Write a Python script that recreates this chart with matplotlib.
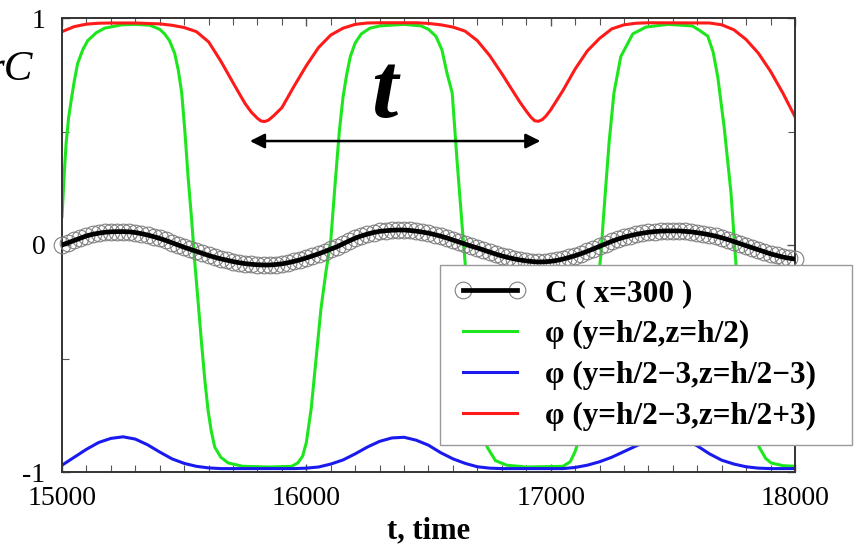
import numpy as np
import matplotlib
matplotlib.use("Agg")
import matplotlib.pyplot as plt
from matplotlib.legend_handler import HandlerTuple

plt.rcParams['font.family'] = ['Liberation Serif', 'DejaVu Serif']
plt.rcParams['mathtext.fontset'] = 'stix'

# ---------------- data ----------------
t_c = np.arange(15000, 18001, 25)
c_vals = [0.000, 0.010, 0.020, 0.030, 0.040, 0.047, 0.052, 0.056, 0.058, 0.059,
          0.059, 0.058, 0.055, 0.050, 0.044, 0.037, 0.029, 0.020, 0.010, 0.000,
          -0.010, -0.019, -0.028, -0.037, -0.046, -0.054, -0.061, -0.067, -0.073, -0.078,
          -0.082, -0.085, -0.087, -0.088, -0.088, -0.086, -0.083, -0.078, -0.072, -0.065,
          -0.057, -0.048, -0.039, -0.029, -0.018, -0.008, 0.005, 0.018, 0.030, 0.040,
          0.048, 0.055, 0.060, 0.063, 0.065, 0.066, 0.066, 0.064, 0.061, 0.057,
          0.052, 0.046, 0.039, 0.031, 0.022, 0.013, 0.004, -0.005, -0.013, -0.022,
          -0.031, -0.040, -0.048, -0.055, -0.061, -0.066, -0.070, -0.073, -0.075, -0.074,
          -0.072, -0.068, -0.062, -0.055, -0.047, -0.038, -0.028, -0.017, -0.006, 0.005,
          0.016, 0.026, 0.034, 0.041, 0.047, 0.052, 0.056, 0.059, 0.061, 0.062,
          0.062, 0.062, 0.060, 0.058, 0.054, 0.050, 0.045, 0.039, 0.032, 0.024,
          0.015, 0.006, -0.003, -0.012, -0.021, -0.030, -0.039, -0.046, -0.053, -0.058,
          -0.062]

t_red = [15000, 15050, 15100, 15150, 15200, 15300, 15400, 15450, 15500, 15550,
         15600, 15650, 15700, 15725, 15750, 15775, 15800, 15815, 15830, 15845,
         15865, 15900, 15950, 16000, 16050, 16100, 16150, 16200, 16250, 16300,
         16450, 16500, 16550, 16600, 16650, 16700, 16750, 16800, 16850, 16875,
         16900, 16920, 16935, 16950, 16965, 16980, 17000, 17050, 17100, 17150,
         17200, 17250, 17300, 17350, 17400, 17650, 17700, 17750, 17800, 17850,
         17900, 17950, 18000]
red_vals = [0.940, 0.962, 0.973, 0.977, 0.978, 0.978, 0.974, 0.968, 0.958, 0.940,
            0.895, 0.810, 0.715, 0.668, 0.622, 0.585, 0.558, 0.546, 0.544, 0.550,
            0.568, 0.605, 0.700, 0.790, 0.870, 0.925, 0.955, 0.972, 0.978, 0.979,
            0.979, 0.976, 0.970, 0.960, 0.942, 0.900, 0.835, 0.755, 0.670, 0.628,
            0.590, 0.562, 0.547, 0.545, 0.552, 0.567, 0.595, 0.680, 0.775, 0.855,
            0.910, 0.952, 0.970, 0.977, 0.979, 0.978, 0.970, 0.948, 0.905, 0.845,
            0.765, 0.670, 0.565]

t_blue = np.arange(15000, 18001, 50)
blue_vals = [-0.970, -0.935, -0.900, -0.870, -0.852, -0.845, -0.855, -0.880, -0.912, -0.942,
             -0.962, -0.975, -0.982, -0.985, -0.985, -0.985, -0.985, -0.985, -0.985, -0.985,
             -0.983, -0.978, -0.965, -0.947, -0.920, -0.890, -0.865, -0.850, -0.847, -0.860,
             -0.882, -0.915, -0.942, -0.962, -0.977, -0.983, -0.985, -0.985, -0.985, -0.985,
             -0.985, -0.985, -0.980, -0.970, -0.955, -0.935, -0.910, -0.885, -0.862, -0.850,
             -0.847, -0.858, -0.885, -0.920, -0.948, -0.965, -0.977, -0.983, -0.985, -0.985,
             -0.985]

t_green = [15000, 15010, 15017, 15027, 15038, 15050, 15064, 15085, 15105, 15140,
           15174, 15244, 15300, 15360, 15400, 15420, 15440, 15461, 15476, 15490,
           15503, 15516, 15530, 15543, 15557, 15571, 15585, 15598, 15611, 15625,
           15650, 15680, 15740, 15850, 15940, 15965, 15985, 16000, 16020, 16040,
           16060, 16080, 16100, 16120, 16135, 16150, 16165, 16180, 16200, 16225,
           16260, 16300, 16400, 16470, 16500, 16530, 16555, 16575, 16597, 16617,
           16638, 16650, 16670, 16690, 16715, 16740, 16774, 16820, 16900, 17050,
           17080, 17100, 17115, 17135, 17155, 17175, 17190, 17205, 17218, 17239,
           17259, 17287, 17336, 17390, 17480, 17580, 17610, 17643, 17665, 17684,
           17710, 17738, 17758, 17778, 17800, 17825, 17853, 17880, 17902, 17950,
           18000]
green_vals = [0.125, 0.33, 0.45, 0.56, 0.64, 0.72, 0.80, 0.86, 0.90, 0.935,
              0.955, 0.970, 0.972, 0.968, 0.950, 0.930, 0.900, 0.845, 0.770, 0.670,
              0.500, 0.300, 0.120, -0.070, -0.250, -0.430, -0.600, -0.730, -0.820, -0.890,
              -0.935, -0.960, -0.975, -0.978, -0.975, -0.960, -0.930, -0.870, -0.720, -0.500,
              -0.280, -0.120, 0.020, 0.300, 0.500, 0.650, 0.750, 0.830, 0.890, 0.930,
              0.955, 0.965, 0.972, 0.965, 0.950, 0.920, 0.860, 0.760, 0.670, 0.370,
              0.080, -0.080, -0.350, -0.580, -0.780, -0.890, -0.950, -0.970, -0.978, -0.975,
              -0.955, -0.910, -0.860, -0.740, -0.560, -0.360, -0.200, -0.050, 0.150, 0.450,
              0.670, 0.830, 0.930, 0.960, 0.972, 0.965, 0.945, 0.920, 0.850, 0.740,
              0.520, 0.230, -0.080, -0.380, -0.630, -0.800, -0.890, -0.940, -0.960, -0.972,
              -0.975]

labels = ["C ( x=300 )", "φ (y=h/2,z=h/2)", "φ (y=h/2−3,z=h/2−3)", "φ (y=h/2−3,z=h/2+3)"]
xticks = [15000, 16000, 17000, 18000]
yticks = [-1, 0, 1]
ytick_labels = ["-1", "0", "1"]
period_start, period_end, period_y = 15769, 16958, 0.458
period_label_x, period_label_y = 16320, 0.564

# ---------------- figure ----------------
fig = plt.figure(figsize=(8.56, 5.46), dpi=100)
ax = fig.add_axes([62/856, 1 - 472/546, (795 - 62)/856, (472 - 18)/546])

GREEN = '#1ee61e'
BLUE = '#1a1aee'
RED = '#ff1a1a'

c_marks, = ax.plot(t_c, c_vals, linestyle='none', marker='o', ms=12, mfc='none',
                   mec='#808080', mew=0.8, clip_on=False, zorder=3)
c_line, = ax.plot(t_c, c_vals, color='black', lw=3.4, zorder=4)
g_line, = ax.plot(t_green, green_vals, color=GREEN, lw=2.2, zorder=2)
b_line, = ax.plot(t_blue, blue_vals, color=BLUE, lw=2.2, zorder=2)
r_line, = ax.plot(t_red, red_vals, color=RED, lw=2.2, zorder=2)

ax.set_xlim(15000, 18000)
ax.set_ylim(-1, 1)
ax.set_xticks(xticks)
ax.set_xticks(np.arange(15000, 18001, 100), minor=True)
ax.set_yticks(yticks)
ax.set_yticklabels(ytick_labels)
ax.set_yticks([-0.5, 0.5], minor=True)
ax.tick_params(which='both', direction='in', top=True, right=True, labelsize=20,
               color='#555555')
ax.tick_params(which='major', length=6, width=1)
ax.tick_params(which='minor', length=5, width=0.8)
ax.tick_params(axis='x', pad=10)
ax.tick_params(axis='y', pad=12)
for sp in ax.spines.values():
    sp.set_color('#333333')
    sp.set_linewidth(1.4)

ax.set_xlabel("t, time", fontsize=22, fontweight='bold', labelpad=4)

# period annotation
ax.annotate('', xy=(period_start, period_y), xytext=(period_end, period_y),
            arrowprops=dict(arrowstyle='<|-|>', color='black', lw=1.8,
                            mutation_scale=22, shrinkA=0, shrinkB=0))
ax.text(period_label_x, period_label_y, 't', fontsize=68, fontweight='bold',
        fontstyle='italic', ha='center', va='baseline')

# partial label at the left edge
fig.text(33/856, 1 - 70/546, 'rC', fontsize=31, fontstyle='italic', ha='right', va='center')

leg = fig.legend([(c_marks, c_line), g_line, b_line, r_line], labels,
                 handler_map={tuple: HandlerTuple(ndivide=1)},
                 loc='upper left',
                 bbox_to_anchor=(440/856, 1 - 443/546, 412/856, 178/546),
                 mode='expand',
                 bbox_transform=fig.transFigure, borderaxespad=0,
                 prop={'size': 22.5, 'weight': 'bold'}, frameon=True, fancybox=False,
                 edgecolor='#999999', framealpha=1, handlelength=2.3, labelspacing=0.38,
                 handletextpad=0.6, borderpad=0.45, numpoints=2)
leg.get_frame().set_linewidth(1.0)
leg.set_zorder(10)

fig.savefig('out.png', dpi=100)
